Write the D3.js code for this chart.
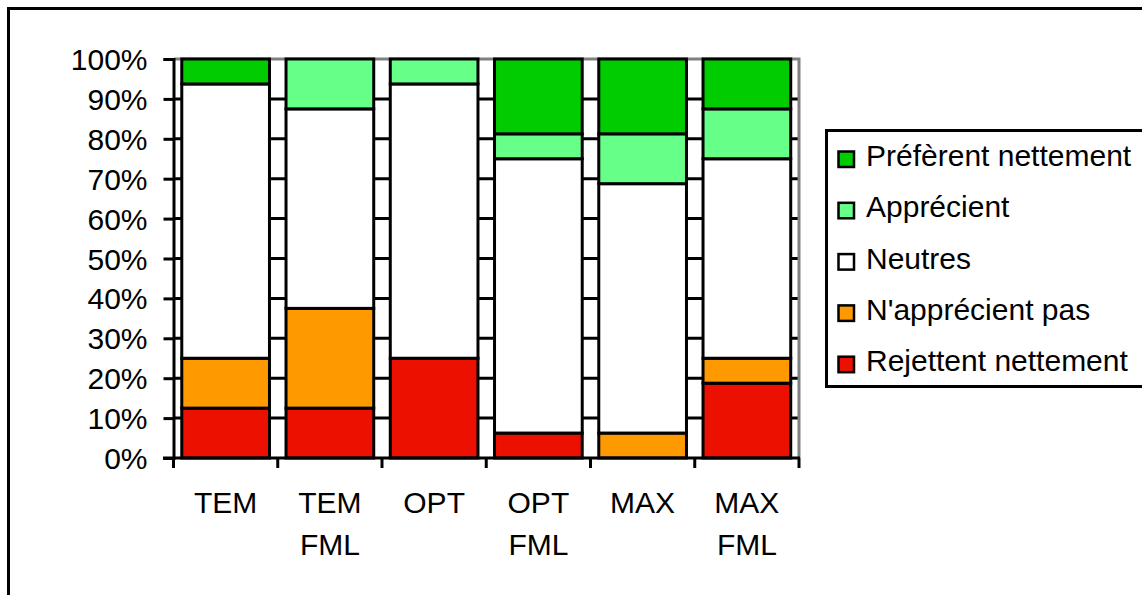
<!DOCTYPE html>
<html>
<head>
<meta charset="utf-8">
<style>
    body { margin: 0; background: #fff; }
    svg text { font-family: "Liberation Sans", Arial, sans-serif; fill: #000; }
</style>
</head>
<body>
    <div class="graph"></div>

    <script src="https://cdn.jsdelivr.net/npm/d3@7"></script>
    <script>
        // categories (two-line labels)
        var categories = ['TEM', 'TEM FML', 'OPT', 'OPT FML', 'MAX', 'MAX FML']

        // series, bottom to top, values in %
        var rejettent   = [12.5, 12.5, 25, 6.25, 0, 18.75]
        var napprecient = [12.5, 25, 0, 0, 6.25, 6.25]
        var neutres     = [68.75, 50, 68.75, 68.75, 62.5, 50]
        var apprecient  = [0, 12.5, 6.25, 6.25, 12.5, 12.5]
        var preferent   = [6.25, 0, 0, 18.75, 18.75, 12.5]

        var seriesNames = ['Rejettent nettement', "N'apprécient pas", 'Neutres', 'Apprécient', 'Préfèrent nettement']
        var seriesValues = [rejettent, napprecient, neutres, apprecient, preferent]
        var colors = ['#ec1000', '#ff9900', '#ffffff', '#66ff88', '#00cc00']
        var yTicks = [0, 10, 20, 30, 40, 50, 60, 70, 80, 90, 100]

        var width = 1142,
            height = 595,
            fontSize = '30px'

        var rows = categories.map(function (c, i) {
            var r = { cat: c }
            seriesNames.forEach(function (s, j) { r[s] = seriesValues[j][i] })
            return r
        })

        var stacked = d3.stack().keys(seriesNames)(rows)

        var x = d3.scaleBand()
            .domain(categories)
            .range([173.5, 799])
            .paddingInner(0.13)
            .paddingOuter(0.065)

        var y = d3.scaleLinear()
            .domain([0, 100])
            .range([458, 59])

        var svg = d3.select('.graph').append('svg')
            .attr('width', width)
            .attr('height', height)

        // outer frame (runs off the picture on right and bottom)
        svg.append('rect')
            .attr('x', 8.5).attr('y', 8.5)
            .attr('width', 1200).attr('height', 700)
            .attr('fill', 'none')
            .attr('stroke', '#000')
            .attr('stroke-width', 3)

        // gridlines
        svg.append('g')
            .selectAll('line')
            .data(yTicks.slice(1, -1))
            .join('line')
            .attr('x1', 174).attr('x2', 799)
            .attr('y1', function (d) { return y(d) })
            .attr('y2', function (d) { return y(d) })
            .attr('stroke', '#000')
            .attr('stroke-width', 3)

        // plot area border (grey top and right)
        svg.append('path')
            .attr('d', 'M174,' + y(100) + 'H799V' + y(0))
            .attr('fill', 'none')
            .attr('stroke', '#808080')
            .attr('stroke-width', 3)

        // bars
        svg.append('g')
            .selectAll('g')
            .data(stacked)
            .join('g')
            .attr('fill', function (d, i) { return colors[i] })
            .selectAll('rect')
            .data(function (d) { return d.filter(function (p) { return p[1] - p[0] > 0 }) })
            .join('rect')
            .attr('x', function (d) { return x(d.data.cat) + 1.5 })
            .attr('width', x.bandwidth() - 3)
            .attr('y', function (d) { return y(d[1]) })
            .attr('height', function (d) { return y(d[0]) - y(d[1]) })
            .attr('stroke', '#000')
            .attr('stroke-width', 3)

        // y axis
        var yAxis = svg.append('g')
            .attr('transform', 'translate(173.5,0)')
            .call(d3.axisLeft(y).tickValues(yTicks).tickFormat(function (d) { return d + '%' }).tickSize(10).tickPadding(16))
        yAxis.select('.domain').attr('stroke', '#000').attr('stroke-width', 3)
        yAxis.selectAll('.tick line').attr('stroke', '#000').attr('stroke-width', 3)
        yAxis.selectAll('text')
            .style('font-size', fontSize)
            .attr('dy', '0.35em')

        // x axis
        var xAxis = svg.append('g')
            .attr('transform', 'translate(0,' + y(0) + ')')
        xAxis.append('line')
            .attr('x1', 163).attr('x2', 800)
            .attr('stroke', '#000').attr('stroke-width', 3)
        var bounds = categories.map(function (c) { return x(c) - x.step() * x.paddingInner() / 2 })
        bounds[0] = 173.5
        bounds.push(799)
        xAxis.selectAll('.xt')
            .data(bounds)
            .join('line')
            .attr('class', 'xt')
            .attr('x1', function (d) { return d }).attr('x2', function (d) { return d })
            .attr('y1', 0).attr('y2', 10)
            .attr('stroke', '#000').attr('stroke-width', 3)

        xAxis.selectAll('.xl')
            .data(categories)
            .join('text')
            .attr('class', 'xl')
            .attr('text-anchor', 'middle')
            .style('font-size', fontSize)
            .each(function (c) {
                var t = d3.select(this)
                c.split(' ').forEach(function (w, k) {
                    t.append('tspan')
                        .attr('x', x(c) + x.bandwidth() / 2)
                        .attr('y', 55 + k * 42)
                        .text(w)
                })
            })

        // legend
        var lg = svg.append('g')
        lg.append('rect')
            .attr('x', 826.5).attr('y', 130.5)
            .attr('width', 400).attr('height', 256)
            .attr('fill', '#fff')
            .attr('stroke', '#000')
            .attr('stroke-width', 3)

        var legendItems = seriesNames.map(function (s, i) { return { name: s, color: colors[i] } }).reverse()
        var item = lg.selectAll('.li')
            .data(legendItems)
            .join('g')
            .attr('class', 'li')
            .attr('transform', function (d, i) { return 'translate(0,' + (155.5 + i * 51.3) + ')' })
        item.append('rect')
            .attr('x', 838.5).attr('y', -4)
            .attr('width', 15.5).attr('height', 15.5)
            .attr('fill', function (d) { return d.color })
            .attr('stroke', '#000')
            .attr('stroke-width', 2.5)
        item.append('text')
            .attr('x', 866)
            .attr('dy', '0.35em')
            .style('font-size', fontSize)
            .text(function (d) { return d.name })
    </script>
</body>
</html>
